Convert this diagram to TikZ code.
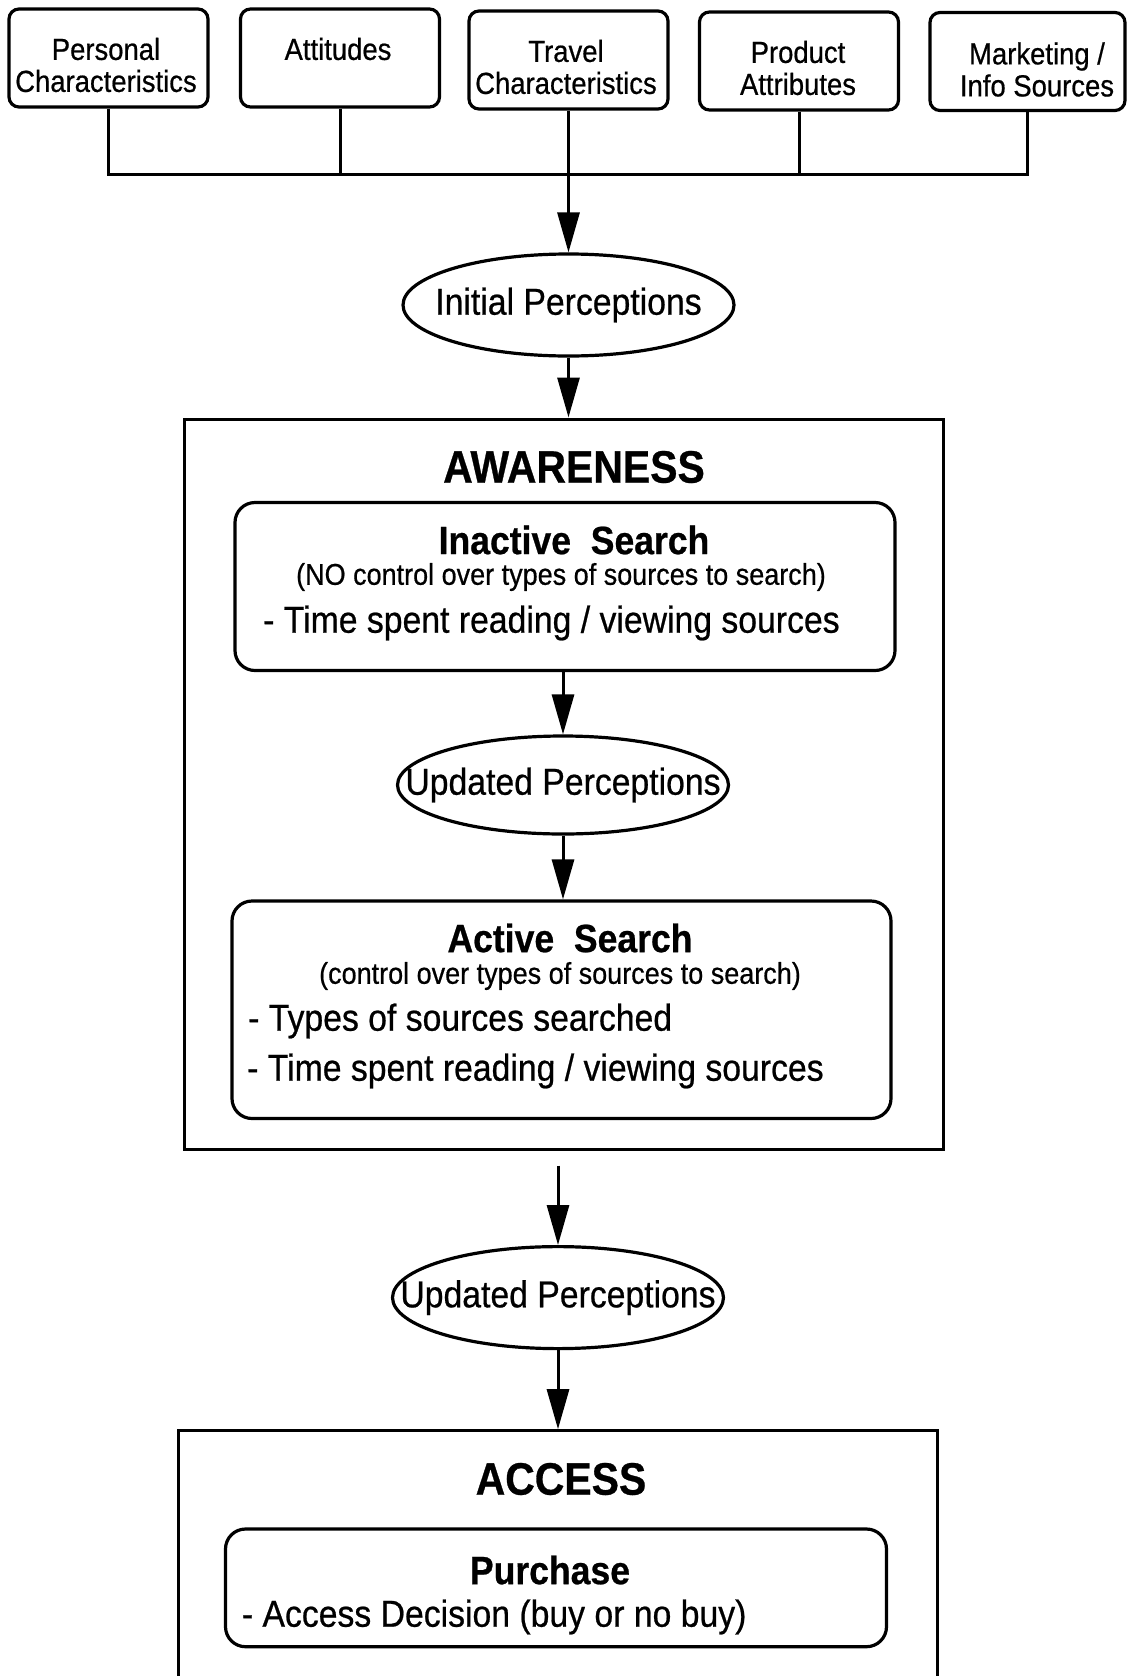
\documentclass[tikz,border=0pt]{standalone}
\usepackage{fontspec}
\setmainfont{Liberation Sans}[FakeStretch=0.9, FakeBold=0.6]
\usetikzlibrary{arrows.meta,shapes.geometric,calc}
\newcommand\ftop{\fontsize{30.5}{32}\selectfont}
\newcommand\fbig{\fontsize{37.5}{40}\selectfont}
\newcommand\fpar{\fontsize{30}{32}\selectfont}
\newcommand\fsub{\fontsize{39.5}{42}\selectfont\bfseries}
\newcommand\ftitle{\fontsize{45.5}{48}\selectfont\bfseries}
\begin{document}
\begin{tikzpicture}[x=1pt,y=1pt,
  tbox/.style={draw, line width=3.2pt, rounded corners=10pt, minimum width=199pt, minimum height=98pt, inner sep=0pt},
  frame/.style={draw, line width=3pt, inner sep=0pt},
  rbox/.style={draw, line width=3.2pt, rounded corners=20pt, inner sep=0pt},
  oval/.style={draw, ellipse, line width=3.2pt, minimum width=331pt, inner sep=0pt},
  conn/.style={line width=3pt},
  arr/.style={line width=3pt, -{Triangle[length=40pt,width=22pt]}},
  ttop/.style={inner sep=0pt, align=center, font=\ftop},
  tbig/.style={inner sep=0pt, font=\fbig},
  tpar/.style={inner sep=0pt, font=\fpar},
  tsub/.style={inner sep=0pt, font=\fsub},
  ttitle/.style={inner sep=0pt, font=\ftitle},
  ]
\useasboundingbox (0,0) rectangle (1127,-1676);
\fill[white] (0,0) rectangle (1127,-1676);
\clip (0,0) rectangle (1127,-1676);

% top factor boxes
\node[tbox] (b1) at (108.5,-58) {};
\node[tbox] (b2) at (340,-58) {};
\node[tbox] (b3) at (568.5,-60) {};
\node[tbox] (b4) at (799,-61) {};
\node[tbox, minimum width=195pt] (b5) at (1027.5,-61.5) {};
\node[ttop] (t1) at (106,-65) {Personal\\Characteristics};
\node[ttop] (t2) at (338,-49) {Attitudes};
\node[ttop] (t3) at (566,-67) {Travel\\Characteristics};
\node[ttop] (t4) at (798,-68) {Product\\Attributes};
\node[ttop] (t5) at (1037,-69.5) {Marketing /\\Info Sources};

% bus
\coordinate (bus) at (568.5,-174);
\draw[conn] (b1.south) -- (b1.south |- bus) -- (b5.south |- bus) -- (b5.south);
\draw[conn] (b2.south) -- (b2.south |- bus);
\draw[conn] (b4.south) -- (b4.south |- bus);

% initial perceptions
\node[oval, minimum height=102pt, label={[tbig]center:Initial Perceptions}] (ip) at (568.5,-305) {};
\draw[arr] (b3.south) -- (ip.north);

% awareness frame
\node[frame, minimum width=759pt, minimum height=730.5pt] (aw) at (563.5,-784.25) {};
\draw[arr] (ip.south) -- (ip.south |- aw.north);
\node[ttitle] (awt) at (574,-467) {AWARENESS};

% inactive search
\node[rbox, minimum width=660pt, minimum height=168pt] (ina) at (565,-586.5) {};
\node[tsub] (inat) at (574,-540) {Inactive\ \ Search};
\node[tpar] (inap) at (561,-577) {(NO control over types of sources to search)};
\node[tbig, anchor=west] (inal) at (263,-623) {- Time spent reading / viewing sources};

% updated perceptions 1
\node[oval, minimum height=98pt, label={[tbig]center:Updated Perceptions}] (up1) at (563,-785) {};
\draw[arr] (ina.south -| up1.north) -- (up1.north);

% active search
\node[rbox, minimum width=659pt, minimum height=217.5pt] (act) at (561.5,-1009.75) {};
\draw[arr] (up1.south) -- (up1.south |- act.north);
\node[tsub] (actt) at (570,-938) {Active\ \ Search};
\node[tpar] (actp) at (560,-976) {(control over types of sources to search)};
\node[tbig, anchor=west] (actl1) at (248,-1021) {- Types of sources searched};
\node[tbig, anchor=west] (actl2) at (247,-1071) {- Time spent reading / viewing sources};

% updated perceptions 2
\coordinate (a5) at (558,-1165.5);
\node[oval, minimum height=102pt, label={[tbig]center:Updated Perceptions}] (up2) at (558,-1297.6) {};
\draw[arr] (a5) -- (up2.north);

% access frame
\node[frame, minimum width=759pt, minimum height=269.3pt] (acc) at (558.2,-1565.35) {};
\draw[arr] (up2.south) -- (up2.south |- acc.north);
\node[ttitle] (acct) at (561,-1479) {ACCESS};

% purchase
\node[rbox, minimum width=661pt, minimum height=117.7pt] (pur) at (556,-1587.85) {};
\node[tsub] (purt) at (550,-1570) {Purchase};
\node[tbig, anchor=west] (purl) at (241.7,-1617) {- Access Decision (buy or no buy)};
\end{tikzpicture}
\end{document}
